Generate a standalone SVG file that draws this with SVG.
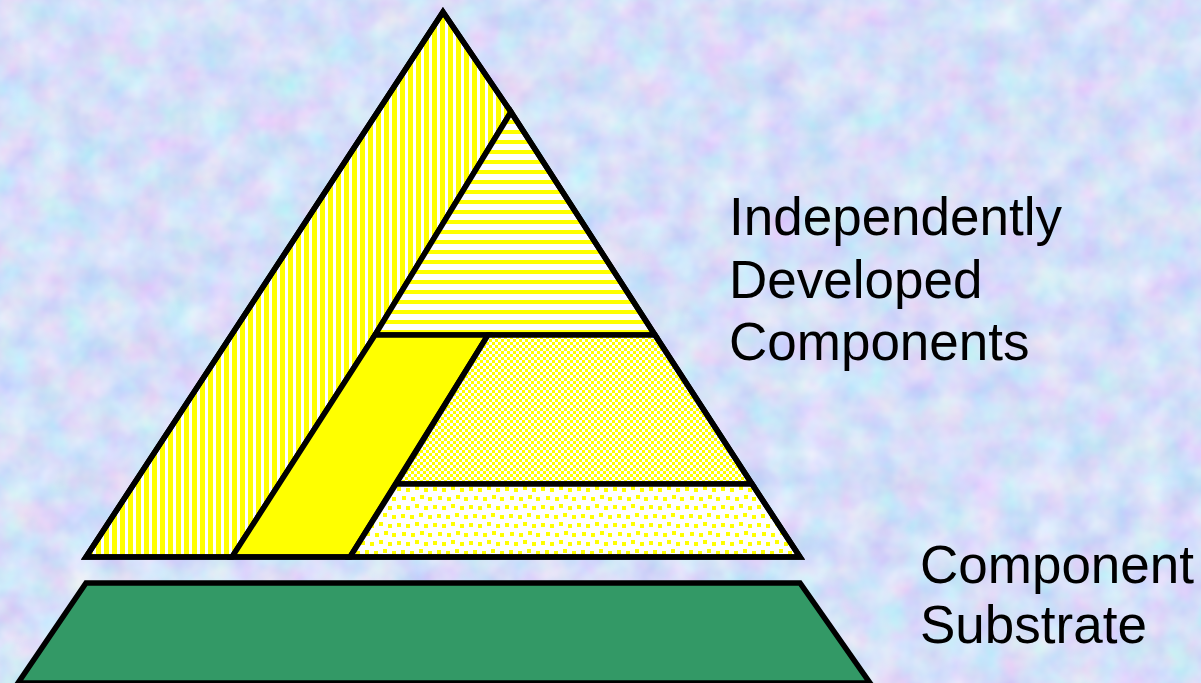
<svg xmlns="http://www.w3.org/2000/svg" width="1201" height="683" viewBox="0 0 1201 683">
  <defs>
    <filter id="tex" x="0" y="0" width="1201" height="683" filterUnits="userSpaceOnUse">
      <feTurbulence type="fractalNoise" baseFrequency="0.03" numOctaves="3" seed="11"/>
      <feColorMatrix type="matrix" values="0.45 0 0 0 0.44  0 0.4 0 0 0.54  0 0 0.15 0 0.87  0 0 0 0 1"/>
    </filter>
    <pattern id="vstripe" width="8" height="8" patternUnits="userSpaceOnUse">
      <rect width="8" height="8" fill="#ffffff"/>
      <rect width="5" height="8" fill="#ffff00"/>
    </pattern>
    <pattern id="hstripe" width="10" height="10" patternUnits="userSpaceOnUse">
      <rect width="10" height="10" fill="#ffffff"/>
      <rect width="10" height="4" fill="#ffff00"/>
    </pattern>
    <pattern id="checker" width="6" height="6" patternUnits="userSpaceOnUse">
      <rect width="6" height="6" fill="#ffffff"/>
      <rect width="3" height="3" fill="#ffff00"/>
      <rect x="3" y="3" width="3" height="3" fill="#ffff00"/>
    </pattern>
    <pattern id="dots" width="36" height="36" patternUnits="userSpaceOnUse">
      <rect width="36" height="36" fill="#ffffff"/>
      <g fill="#ffff00">
        <rect x="1" y="1" width="4" height="4"/>
        <rect x="10" y="2" width="4" height="4"/>
        <rect x="19" y="0" width="4" height="4"/>
        <rect x="28" y="2" width="4" height="4"/>
        <rect x="5" y="10" width="4" height="4"/>
        <rect x="14" y="11" width="4" height="4"/>
        <rect x="23" y="9" width="4" height="4"/>
        <rect x="32" y="11" width="4" height="4"/>
        <rect x="1" y="19" width="4" height="4"/>
        <rect x="10" y="20" width="4" height="4"/>
        <rect x="19" y="18" width="4" height="4"/>
        <rect x="28" y="20" width="4" height="4"/>
        <rect x="6" y="28" width="4" height="4"/>
        <rect x="15" y="29" width="4" height="4"/>
        <rect x="24" y="27" width="4" height="4"/>
        <rect x="32" y="29" width="4" height="4"/>
      </g>
    </pattern>
    <style>
      .edge { stroke: #000000; stroke-width: 5.5; stroke-linejoin: miter; }
      .lbl { font-family: "Liberation Sans", Arial, sans-serif; font-size: 53px; fill: #000000; }
    </style>
  </defs>

  <rect id="background" x="0" y="0" width="1201" height="683" fill="#b4c4f2"/>
  <rect x="0" y="0" width="1201" height="683" filter="url(#tex)"/>

  <g id="substrate">
    <polygon class="edge" points="86,583 800,583 870,683 18,683" fill="#339966"/>
  </g>

  <g id="pyramid">
    <g id="vertical-striped">
      <polygon class="edge" points="443,12 511,112 375,335 232,557 86,557" fill="url(#vstripe)"/>
    </g>
    <g id="horizontal-striped">
      <polygon class="edge" points="511,112 655,335 375,335" fill="url(#hstripe)"/>
    </g>
    <g id="solid-yellow">
      <polygon class="edge" points="375,335 488,335 350,557 232,557" fill="#ffff00"/>
    </g>
    <g id="checkered">
      <polygon class="edge" points="488,335 655,335 752,484 396,484" fill="url(#checker)"/>
    </g>
    <g id="dotted">
      <polygon class="edge" points="396,484 752,484 800,557 350,557" fill="url(#dots)"/>
    </g>
    <polygon class="edge" points="443,12 511,112 655,335 752,484 800,557 86,557" fill="none"/>
  </g>

  <g id="label-components">
    <text class="lbl" x="729" y="235">Independently</text>
    <text class="lbl" x="729" y="298">Developed</text>
    <text class="lbl" x="729" y="360">Components</text>
  </g>
  <g id="label-substrate">
    <text class="lbl" x="920" y="583">Component</text>
    <text class="lbl" x="920" y="643">Substrate</text>
  </g>
</svg>
